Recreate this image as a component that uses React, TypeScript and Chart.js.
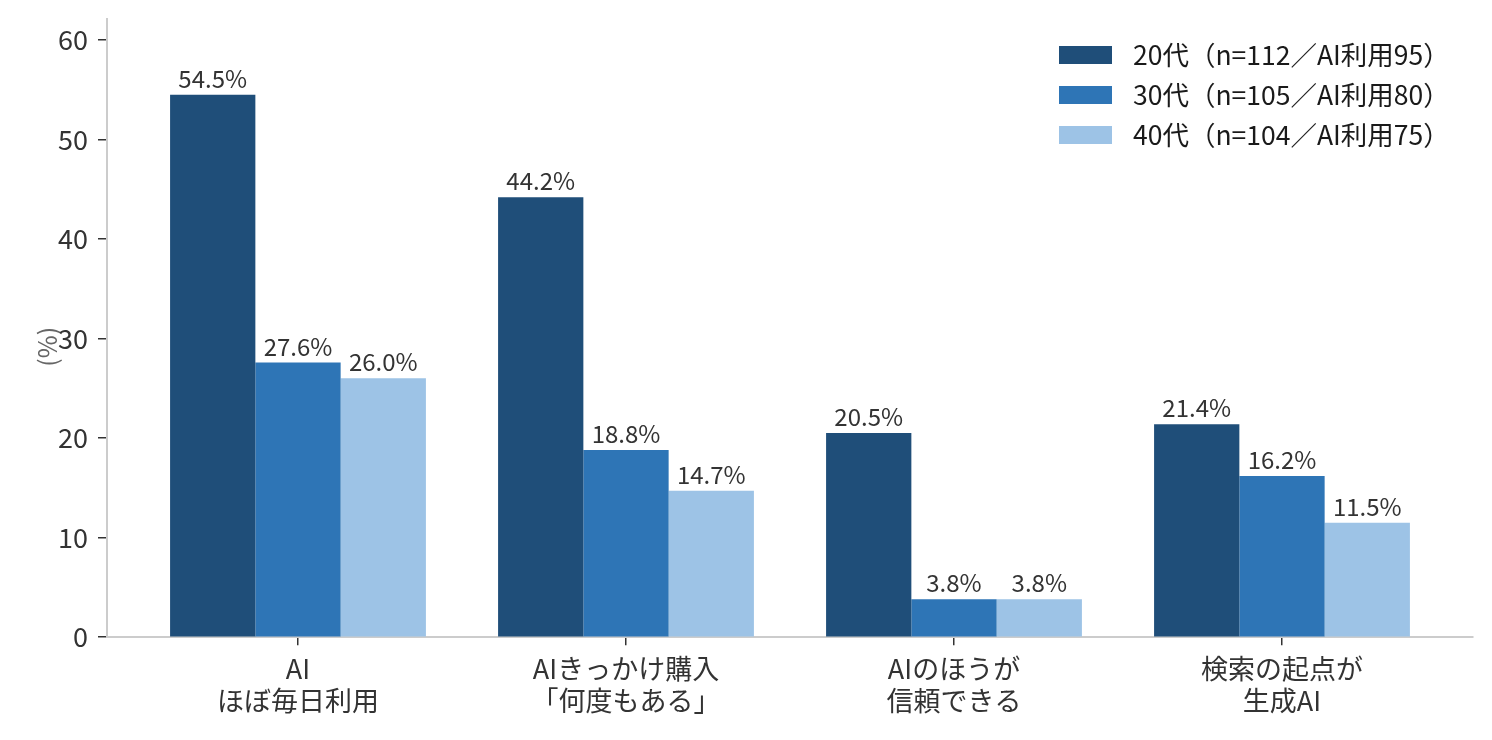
import { useEffect, useRef } from 'react'
import { Chart, registerables } from 'chart.js'

Chart.register(...registerables)

const categories = [['AI', 'ほぼ毎日利用'], ['AIきっかけ購入', '「何度もある」'], ['AIのほうが', '信頼できる'], ['検索の起点が', '生成AI']]
const seriesLabels = ['20代（n=112／AI利用95）', '30代（n=105／AI利用80）', '40代（n=104／AI利用75）']
const age20 = [54.5, 44.2, 20.5, 21.4]
const age30 = [27.6, 18.8, 3.8, 16.2]
const age40 = [26.0, 14.7, 3.8, 11.5]
const yTicks = [0, 10, 20, 30, 40, 50, 60]

const FONT = '"Noto Sans CJK JP", "Noto Sans", sans-serif'
const colors = ['#1f4e79', '#2e75b6', '#9dc3e6']
const PAD = 27 / 328 // extra space at either end of the x axis, in category units

const valueLabels = {
  id: 'valueLabels',
  afterDatasetsDraw(chart: Chart) {
    const { ctx } = chart
    ctx.save()
    ctx.font = `24px ${FONT}`
    ctx.fillStyle = '#333333'
    ctx.textAlign = 'center'
    ctx.textBaseline = 'bottom'
    chart.data.datasets.forEach((ds, i) => {
      chart.getDatasetMeta(i).data.forEach((bar: any, j) => {
        ctx.fillText((ds.data[j] as number).toFixed(1) + '%', bar.x, bar.y - 4)
      })
    })
    ctx.restore()
  },
}

const sideLegend = {
  id: 'sideLegend',
  afterDraw(chart: Chart) {
    const { ctx } = chart
    ctx.save()
    ctx.font = `26.5px ${FONT}`
    ctx.textBaseline = 'middle'
    chart.data.datasets.forEach((ds, i) => {
      const y = 55 + i * 40
      ctx.fillStyle = ds.backgroundColor as string
      ctx.fillRect(1059, y - 9, 53, 18)
      ctx.fillStyle = '#1a1a1a'
      ctx.fillText(ds.label as string, 1133, y)
    })
    ctx.restore()
  },
}

export default function App() {
  const ref = useRef<HTMLCanvasElement>(null)

  useEffect(() => {
    if (!ref.current) return
    const chart = new Chart(ref.current, {
      type: 'bar',
      data: {
        labels: categories,
        datasets: [age20, age30, age40].map((d, i) => ({
          label: seriesLabels[i],
          data: d,
          backgroundColor: colors[i],
          borderWidth: 0,
          categoryPercentage: 0.78,
          barPercentage: 1.0,
        })),
      },
      options: {
        animation: false,
        responsive: true,
        maintainAspectRatio: false,
        layout: { padding: { left: 30, top: 19, right: 19, bottom: 16 } },
        plugins: { legend: { display: false }, tooltip: { enabled: false } },
        scales: {
          x: {
            afterBuildTicks: (s: any) => {
              s._startValue = -0.5 - PAD
              s._valueRange = categories.length + 2 * PAD
            },
            afterFit: (s: any) => { s.paddingLeft = 0; s.paddingRight = 0 },
            grid: { offset: false, drawOnChartArea: false, drawTicks: true, tickLength: 8, color: '#333333', lineWidth: 1.5 },
            border: { color: '#cccccc', width: 2 },
            ticks: { color: '#333333', font: { family: FONT, size: 27, lineHeight: 1.2 }, padding: 7, maxRotation: 0 },
          },
          y: {
            min: 0,
            max: 62.1,
            afterFit: (s: any) => { s.width = 77; s.paddingTop = 0; s.paddingBottom = 0 },
            afterBuildTicks: (s: any) => { s.ticks = yTicks.map(v => ({ value: v })) },
            grid: { drawOnChartArea: false, drawTicks: true, tickLength: 9, color: '#333333', lineWidth: 1.5 },
            border: { color: '#cccccc', width: 2 },
            ticks: { color: '#333333', font: { family: FONT, size: 27 }, padding: 10, includeBounds: false },
            title: { display: true, text: '(%)\u3000\u2002', color: '#666666', font: { family: FONT, size: 25 }, padding: { top: 2, bottom: 0 } },
          },
        },
      },
      plugins: [valueLabels, sideLegend],
    })
    return () => chart.destroy()
  }, [])

  return (
    <div style={{ position: 'fixed', left: 0, top: 0, width: 1492, height: 740, background: '#fff' }}>
      <canvas ref={ref} />
    </div>
  )
}
